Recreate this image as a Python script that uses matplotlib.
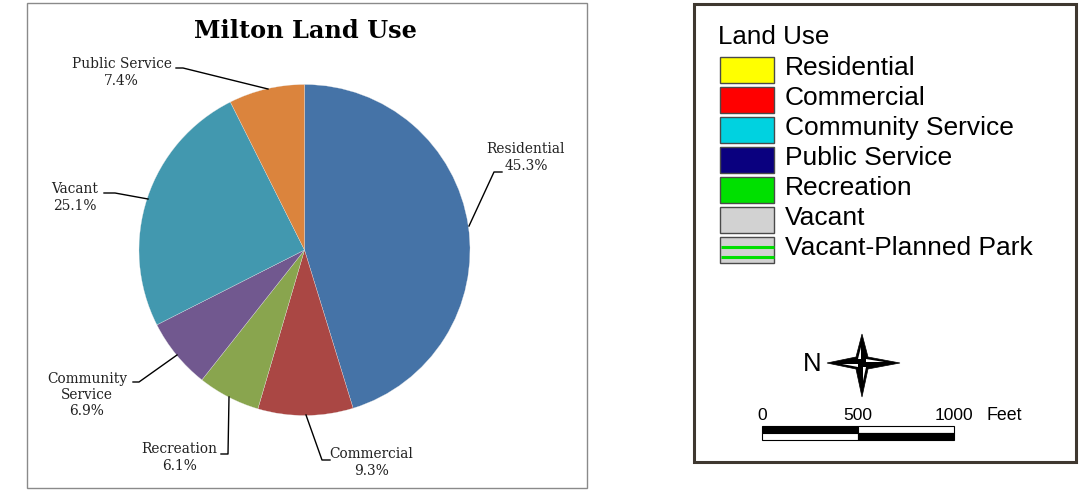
import matplotlib
matplotlib.use("Agg")
import matplotlib.pyplot as plt
from matplotlib.patches import Rectangle, Polygon

# pie data
pie_names = ["Residential", "Commercial", "Recreation", "Community Service", "Vacant", "Public Service"]
pie_values = [45.3, 9.3, 6.1, 6.9, 25.1, 7.4]
pie_colors = ["#4573a7", "#aa4744", "#89a54e", "#71588f", "#4298af", "#db843d"]

# map legend
legend_names = ["Residential", "Commercial", "Community Service", "Public Service",
                "Recreation", "Vacant", "Vacant-Planned Park"]
legend_colors = ["#ffff00", "#ff0000", "#00d2e0", "#0a007f", "#00e000", "#d2d2d2", "#d2d2d2"]
scale_labels = ["0", "500", "1000"]

H = 490


def Y(y):
    # pixel rows from the top
    return H - y


fig = plt.figure(figsize=(10.92, 4.90), dpi=100)
ax = fig.add_axes([0, 0, 1, 1])

ax.pie(pie_values, colors=pie_colors, startangle=90, counterclock=False,
       center=(304.5, Y(250)), radius=165.5,
       wedgeprops=dict(edgecolor="#e8e8e8", linewidth=0.2))
ax.set_xlim(0, 1092)
ax.set_ylim(0, H)
ax.set_aspect("equal")
ax.axis("off")

# chart frame
ax.add_patch(Rectangle((27, Y(488)), 560, 485, fill=False, edgecolor="#8a8a8a", linewidth=1.0))
ax.text(305.5, Y(31), "Milton Land Use", family="DejaVu Serif", weight="bold", fontsize=17.3,
        ha="center", va="center", color="black")

# slice labels
serif = dict(family="DejaVu Serif", fontsize=9.9, color="#222222", ha="center", va="center", linespacing=1.2)
ax.text(526, Y(157.5), "Residential\n45.3%", **serif)
ax.text(371.5, Y(462.5), "Commercial\n9.3%", **serif)
ax.text(179.5, Y(457.5), "Recreation\n6.1%", **serif)
ax.text(87, Y(395), "Community\nService\n6.9%", **serif)
ax.text(75, Y(197.5), "Vacant\n25.1%", **serif)
ax.text(121.5, Y(72.5), "Public Service\n7.4%", **serif)

# leader lines
leaders = [
    ([469, 494, 502], [226, 172, 172]),
    ([306, 322, 330], [415, 460, 460]),
    ([229, 228, 221], [397, 454, 454]),
    ([177, 139, 133], [355, 382, 382]),
    ([148, 115, 104], [199, 193, 193]),
    ([268, 183, 176], [89, 68, 68]),
]
for xs, ys in leaders:
    ax.plot(xs, [Y(v) for v in ys], color="black", linewidth=1.0)

# map legend frame
ax.add_patch(Rectangle((694, Y(462)), 381.5, 458, fill=False, edgecolor="#3f3830", linewidth=2.2))

sans = dict(family="Liberation Sans", color="black", va="center")
ax.text(718, Y(37.5), "Land Use", fontsize=18.7, **sans)

for i, (name, col) in enumerate(zip(legend_names, legend_colors)):
    top = 57 + i * 30
    ax.add_patch(Rectangle((720, Y(top + 26.5)), 54, 26.5, facecolor=col,
                           edgecolor="#4a4a4a", linewidth=1.0))
    ax.text(785, Y(top + 11), name, fontsize=19, **sans)
    if name == "Vacant-Planned Park":
        for off in (10, 20):
            ax.plot([720.5, 773.5], [Y(top + off), Y(top + off)], color="#00e000", linewidth=2.2,
                    solid_capstyle="butt")

# north arrow
ax.text(812, Y(364), "N", fontsize=18.5, family="Liberation Sans", color="black", ha="center", va="center")
cx, cy = 862, 363
star = [(cx, cy - 29), (cx + 6, cy - 6), (cx + 38, cy), (cx + 6, cy + 6),
        (cx, cy + 34), (cx - 6, cy + 6), (cx - 35, cy), (cx - 6, cy - 6)]
ax.add_patch(Polygon([(a, Y(b)) for a, b in star], closed=True, facecolor="black", edgecolor="black", linewidth=0.5))
# white inner slivers of the star
slivers = [
    [(cx - 4, cy - 4), (cx - 1, cy - 16), (cx - 1, cy - 4)],
    [(cx + 4, cy + 4), (cx + 1, cy + 18), (cx + 1, cy + 4)],
    [(cx + 4, cy - 4), (cx + 22, cy - 1), (cx + 4, cy - 1)],
    [(cx - 4, cy + 4), (cx - 20, cy + 1), (cx - 4, cy + 1)],
]
for s in slivers:
    ax.add_patch(Polygon([(a, Y(b)) for a, b in s], closed=True, facecolor="white", edgecolor="none"))

# scale bar
for x, lab in zip([762, 858, 954], scale_labels):
    ax.text(x, Y(415), lab, fontsize=12.5, ha="center", **sans)
ax.text(986, Y(415), "Feet", fontsize=12.8, ha="left", **sans)
ax.add_patch(Rectangle((762, Y(433)), 96, 7, facecolor="black", edgecolor="black", linewidth=0.8))
ax.add_patch(Rectangle((858, Y(433)), 96, 7, facecolor="white", edgecolor="black", linewidth=0.8))
ax.add_patch(Rectangle((762, Y(440)), 96, 7, facecolor="white", edgecolor="black", linewidth=0.8))
ax.add_patch(Rectangle((858, Y(440)), 96, 7, facecolor="black", edgecolor="black", linewidth=0.8))

fig.savefig("out.png", dpi=100, facecolor="white")
